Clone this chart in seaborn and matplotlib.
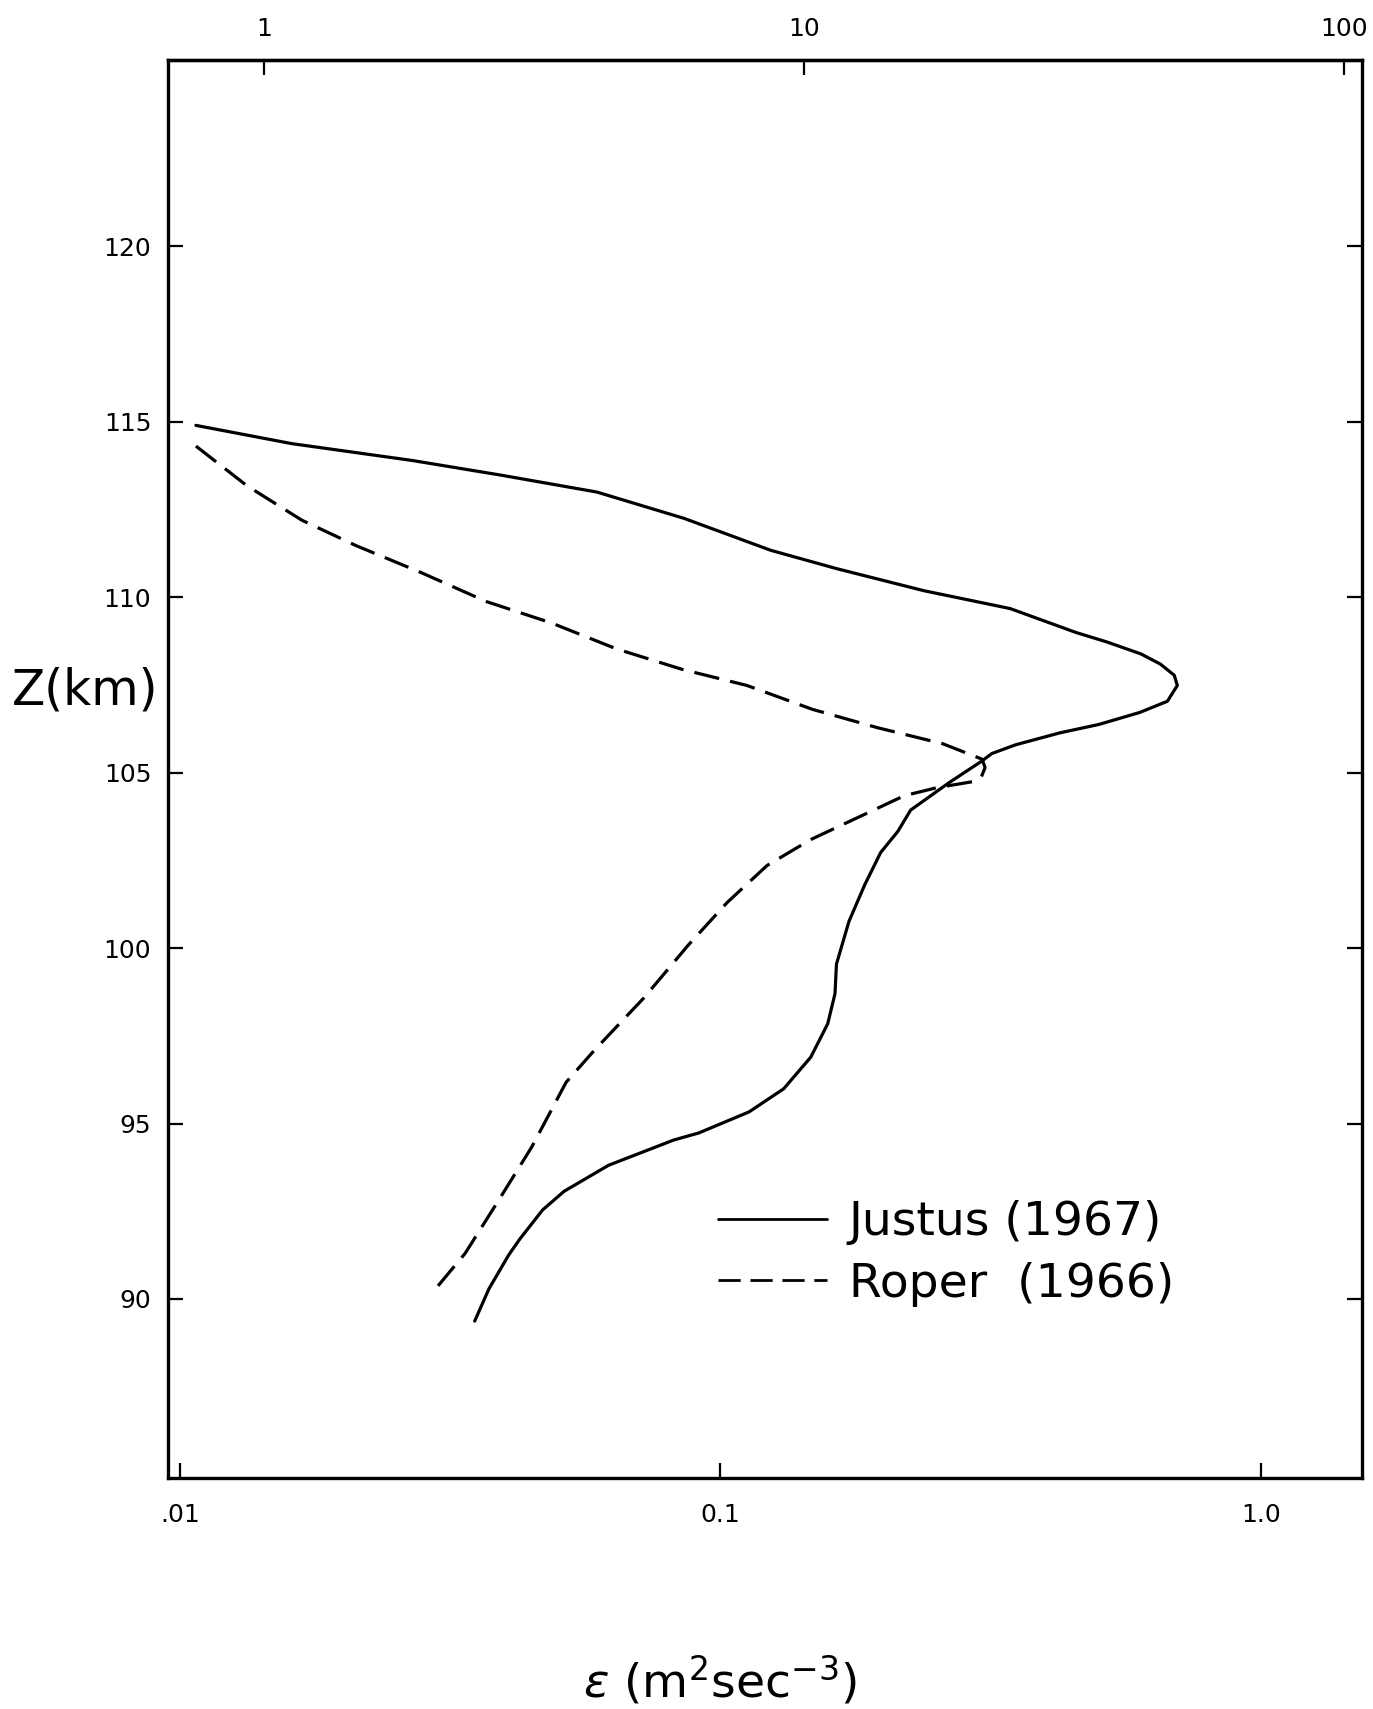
import numpy as np
import pandas as pd
import matplotlib
matplotlib.use("Agg")
import matplotlib.pyplot as plt
from matplotlib.ticker import NullLocator, FixedLocator, FixedFormatter
import seaborn as sns

# ---- data (epsilon in m^2 s^-3, altitude Z in km) ----
justus_eps = [0.0107, 0.0161, 0.0269, 0.039, 0.0591, 0.0857, 0.124, 0.164, 0.238,
              0.344, 0.455, 0.519, 0.600, 0.652, 0.692, 0.701, 0.672, 0.597, 0.502,
              0.425, 0.352, 0.318, 0.305, 0.265, 0.225, 0.213, 0.198, 0.185, 0.173,
              0.164, 0.163, 0.158, 0.147, 0.131, 0.113, 0.0912, 0.082, 0.0621,
              0.0514, 0.0469, 0.0426, 0.0406, 0.0373, 0.0351]
justus_z = [114.89, 114.37, 113.89, 113.48, 112.99, 112.24, 111.33, 110.81, 110.18,
            109.67, 108.99, 108.72, 108.38, 108.09, 107.77, 107.48, 107.03, 106.71,
            106.37, 106.13, 105.79, 105.54, 105.33, 104.71, 103.93, 103.32, 102.72,
            101.80, 100.76, 99.54, 98.70, 97.84, 96.89, 95.99, 95.33, 94.73, 94.53,
            93.81, 93.07, 92.54, 91.72, 91.26, 90.29, 89.37]

roper_eps = [0.0107, 0.0133, 0.0168, 0.0212, 0.0279, 0.0369, 0.0487, 0.0643, 0.0849,
             0.112, 0.148, 0.195, 0.258, 0.305, 0.309, 0.304, 0.296, 0.252, 0.219,
             0.185, 0.147, 0.122, 0.103, 0.0873, 0.0722, 0.0584, 0.0518, 0.0448,
             0.0389, 0.0337, 0.0292]
roper_z = [114.30, 113.17, 112.19, 111.46, 110.70, 109.87, 109.26, 108.52, 107.94,
           107.48, 106.80, 106.28, 105.82, 105.38, 105.14, 104.87, 104.75, 104.57,
           104.34, 103.81, 103.09, 102.35, 101.30, 100.09, 98.58, 97.08, 96.17,
           94.34, 92.82, 91.30, 90.15]

series_labels = ["Justus (1967)", "Roper  (1966)"]
bottom_ticks = [0.01, 0.1, 1.0]
bottom_ticklabels = [".01", "0.1", "1.0"]
top_ticks = [1, 10, 100]
top_ticklabels = ["1", "10", "100"]
z_ticks = [90, 95, 100, 105, 110, 115, 120]
top_factor = 70.0

df_j = pd.DataFrame({"eps": justus_eps, "z": justus_z})
df_r = pd.DataFrame({"eps": roper_eps, "z": roper_z})

sns.set_theme(style="ticks")
plt.rcParams["font.family"] = ["DejaVu Sans"]

W, H = 1373, 1709
fig = plt.figure(figsize=(W / 100, H / 100), dpi=100)
fig.patch.set_facecolor("white")
left, right, top, bottom = 168, 1362, 60, 1478
ax = fig.add_axes([left / W, 1 - bottom / H, (right - left) / W, (bottom - top) / H])
ax.set_facecolor("white")

sns.lineplot(data=df_j, x="eps", y="z", sort=False, estimator=None, ax=ax,
             color="black", lw=2.3, label=series_labels[0])
sns.lineplot(data=df_r, x="eps", y="z", sort=False, estimator=None, ax=ax,
             color="black", lw=2.3, label=series_labels[1])
ax.lines[1].set_dashes((8, 3.5))
for ln in ax.lines:
    ln.set_solid_joinstyle("round")
    ln.set_dash_joinstyle("round")

ax.set_xscale("log")
ax.set_xlim(0.0095, 1.54)
ax.set_ylim(84.9, 125.3)

ax.xaxis.set_major_locator(FixedLocator(bottom_ticks))
ax.xaxis.set_major_formatter(FixedFormatter(bottom_ticklabels))
ax.xaxis.set_minor_locator(NullLocator())
ax.set_yticks(z_ticks)
ax.set_yticklabels([str(v) for v in z_ticks])

for s in ax.spines.values():
    s.set_linewidth(2.4)
    s.set_color("black")

ax.tick_params(axis="both", which="major", direction="in", length=11, width=1.6,
               labelsize=18, colors="black", pad=12)
ax.tick_params(axis="y", right=True, left=True, labelright=False)
ax.tick_params(axis="x", bottom=True, top=False, pad=18)

sec = ax.secondary_xaxis("top", functions=(lambda x: x * top_factor,
                                           lambda x: x / top_factor))
sec.xaxis.set_major_locator(FixedLocator(top_ticks))
sec.xaxis.set_major_formatter(FixedFormatter(top_ticklabels))
sec.xaxis.set_minor_locator(NullLocator())
sec.tick_params(direction="in", length=11, width=1.6, labelsize=18, pad=14,
                colors="black")
sec.spines["top"].set_linewidth(2.4)

ax.set_xlabel("")
ax.set_ylabel("")
fig.text(720 / W, 1 - 1680 / H, r"$\epsilon$ (m$^2$sec$^{-3}$)", fontsize=34,
         ha="center", va="center", color="black")
fig.text(85 / W, 1 - 690 / H, "Z(km)", fontsize=35, ha="center", va="center",
         color="black")

leg = ax.legend(loc="upper left", bbox_to_anchor=(0.425, 0.226), frameon=False,
                fontsize=34, handlelength=2.3, handletextpad=0.47,
                labelspacing=0.35, labelcolor="black")
for h in leg.get_lines():
    h.set_linewidth(2.0)

fig.savefig("out.png", dpi=100, facecolor="white")
